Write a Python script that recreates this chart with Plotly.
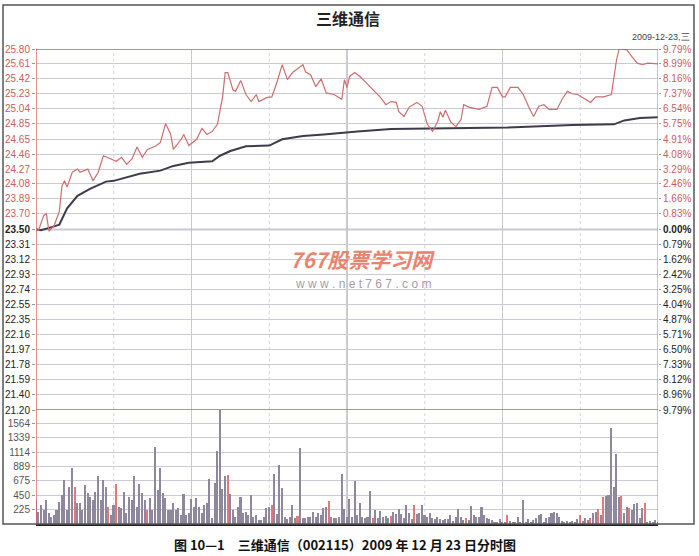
import plotly.graph_objects as go

# ---------------- data ----------------
price_minutes = [0, 1, 3, 4, 5, 7, 9, 10, 11, 12, 14, 16, 17, 20, 22, 24, 26, 28, 31, 33, 35, 37, 39, 41, 43,
                 46, 48, 50, 52, 53, 56, 57, 59, 62, 64, 66, 68, 70, 72, 73, 74, 76, 77, 79, 81, 83, 85, 86, 89,
                 91, 93, 95, 97, 99, 103, 104, 106, 108, 110, 112, 115, 118, 119, 120,
                 121, 123, 125, 128, 130, 133, 135, 137, 139, 140, 142, 144, 147, 149, 151, 153, 155, 156, 157,
                 158, 160, 162, 164, 165, 167, 169, 171, 174, 176, 178, 180, 181, 183, 186, 188, 190, 192, 194,
                 196, 198, 201, 203, 205, 207, 209, 212, 214, 216, 219, 222, 224, 225, 228, 230, 232, 234, 236, 240]
price_values = [23.50, 23.49, 23.68, 23.70, 23.48, 23.55, 23.73, 24.05, 24.12, 24.04, 24.23, 24.27, 24.23, 24.27,
                24.12, 24.23, 24.44, 24.41, 24.37, 24.42, 24.33, 24.40, 24.55, 24.42, 24.52,
                24.56, 24.61, 24.85, 24.71, 24.52, 24.65, 24.71, 24.57, 24.65, 24.79, 24.71, 24.75, 24.84, 25.19,
                25.50, 25.50, 25.28, 25.26, 25.40, 25.22, 25.13, 25.22, 25.13, 25.18,
                25.19, 25.38, 25.60, 25.41, 25.50, 25.60, 25.51, 25.47, 25.32, 25.42, 25.24, 25.22, 25.16, 25.41, 25.31,
                25.45, 25.50, 25.45, 25.35, 25.28, 25.18, 25.09, 25.13, 25.12, 25.00, 24.94, 25.06, 25.12, 25.07,
                24.84, 24.75, 24.88, 25.00, 24.93,
                25.02, 24.87, 24.81, 24.90, 25.09, 25.06, 25.04, 25.03, 25.07, 25.31, 25.31, 25.19, 25.19, 25.31,
                25.31, 25.22, 25.07, 24.94, 25.07,
                25.09, 25.03, 25.03, 25.16, 25.26, 25.23, 25.22, 25.16, 25.12, 25.19, 25.19, 25.22, 25.66, 25.80,
                25.79, 25.70, 25.62, 25.60, 25.62, 25.61]

avg_minutes = [0, 2, 7, 9, 12, 16, 21, 27, 30, 35, 40, 48, 53, 59, 68, 71, 75, 81, 90, 95, 103, 111, 120,
               124, 137, 156, 182, 207, 223, 227, 233, 240]
avg_values = [23.50, 23.49, 23.54, 23.56, 23.77, 23.93, 24.02, 24.11, 24.12, 24.17, 24.21, 24.25, 24.31, 24.35,
              24.37, 24.44, 24.50, 24.56, 24.57, 24.65, 24.69, 24.71, 24.74,
              24.75, 24.78, 24.79, 24.80, 24.83, 24.84, 24.89, 24.92, 24.93]

vol_morning = [372, 186, 295, 217, 372, 165, 114, 140, 217, 346, 450, 682, 217, 579, 863, 579, 320, 331, 217,
               605, 486, 424, 372, 501, 744, 372, 682, 579, 269, 140, 295, 620, 269, 243, 491, 165, 424, 372,
               744, 269, 620, 486, 372, 217, 398, 217, 1199, 527, 873, 476, 398, 217, 217, 331, 217, 243, 140,
               465, 140, 165, 388, 269, 408, 269, 176, 295, 320, 698, 88, 631, 1137, 1778, 543, 744, 760, 465,
               217, 114, 269, 424, 165, 191, 140, 450, 114, 140, 62, 62, 114, 243, 259, 295, 775, 155, 910,
               563, 114, 78, 114, 290, 88, 129, 1184, 88, 88, 103, 103, 191, 114, 165, 140, 243, 259, 362,
               103, 88, 88, 114, 775, 227, 114]
vol_afternoon = [382, 114, 672, 140, 320, 114, 88, 103, 517, 88, 217, 88, 202, 103, 124, 98, 124, 191, 155,
                 238, 155, 88, 290, 176, 78, 290, 155, 165, 290, 140, 103, 165, 88, 72, 103, 78, 62, 78, 78,
                 140, 52, 114, 233, 103, 62, 88, 62, 284, 140, 114, 114, 259, 140, 88, 78, 62, 36, 36, 78, 36,
                 36, 140, 52, 36, 26, 103, 36, 372, 36, 78, 26, 62, 88, 140, 150, 36, 88, 114, 165, 191, 165,
                 114, 52, 36, 52, 36, 52, 36, 72, 140, 52, 88, 62, 88, 165, 191, 227, 140, 424, 439, 450, 1484,
                 569, 1086, 424, 434, 165, 269, 243, 217, 305, 331, 88, 253, 331, 36, 52, 36, 62, 36]
red_bar_minutes = [15, 28, 31, 43, 74, 91, 101, 113, 130, 137, 146, 166, 182, 210, 214, 217, 219, 226, 229, 235]

price_labels_upper = ["25.80", "25.61", "25.42", "25.23", "25.04", "24.85", "24.65", "24.46", "24.27",
                      "24.08", "23.89", "23.70"]
price_label_mid = "23.50"
price_labels_lower = ["23.31", "23.12", "22.93", "22.74", "22.55", "22.35", "22.16", "21.97", "21.78",
                      "21.59", "21.40", "21.20"]
pct_labels_upper = ["9.79%", "8.99%", "8.16%", "7.37%", "6.54%", "5.75%", "4.91%", "4.08%", "3.29%",
                    "2.46%", "1.66%", "0.83%"]
pct_label_mid = "0.00%"
pct_labels_lower = ["0.79%", "1.62%", "2.42%", "3.25%", "4.04%", "4.87%", "5.71%", "6.50%", "7.33%",
                    "8.12%", "8.96%", "9.79%"]
vol_ticks = [225, 450, 675, 889, 1114, 1339, 1564]

title_text = "三维通信"
date_text = "2009-12-23,三"
caption_text = "图 10—1　三维通信（002115）2009 年 12 月 23 日分时图"
wm_main = "767股票学习网"
wm_url = "w w w . n e t 7 6 7 . c o m"

# ---------------- styles ----------------
RED = "#cc5c5c"
LINE_RED = "#cc6e6e"
GRID = "#cdc9d8"
BAR_GRAY = "#8f879c"
BAR_RED = "#e07a7a"
NUM_FONT = "Liberation Sans"
CJK_FONT = "Noto Sans CJK SC"

vol_all = vol_morning + vol_afternoon
vol_minutes = list(range(len(vol_all)))
bar_colors = [BAR_RED if m in red_bar_minutes else BAR_GRAY for m in vol_minutes]

p_vals = [float(s) for s in price_labels_upper + [price_label_mid] + price_labels_lower]
p_text = ([f'<span style="color:{RED}">{s}</span>' for s in price_labels_upper]
          + [f"<b>{price_label_mid}</b>"]
          + [f'<span style="color:#222">{s}</span>' for s in price_labels_lower])
r_text = ([f'<span style="color:{RED}">{s}</span>' for s in pct_labels_upper]
          + [f"<b>{pct_label_mid}</b>"]
          + [f'<span style="color:#222">{s}</span>' for s in pct_labels_lower])
p_min, p_max = min(p_vals), max(p_vals)
t0, t1 = price_minutes[0], price_minutes[-1]

fig = go.Figure()
fig.add_trace(go.Bar(x=vol_minutes, y=vol_all, marker_color=bar_colors, marker_line_width=0,
                     width=0.6, yaxis="y2", xaxis="x", hoverinfo="skip"))
fig.add_trace(go.Scatter(x=avg_minutes, y=avg_values, mode="lines",
                         line=dict(color="#3c3c4c", width=2), yaxis="y", hoverinfo="skip"))
fig.add_trace(go.Scatter(x=price_minutes, y=price_values, mode="lines",
                         line=dict(color=LINE_RED, width=1.2), yaxis="y", hoverinfo="skip"))
fig.add_trace(go.Scatter(x=[t0, t1], y=[p_min, p_max], mode="markers", marker=dict(opacity=0),
                         yaxis="y3", hoverinfo="skip"))

shapes = []
for m in [30, 90, 150, 210]:
    shapes.append(dict(type="line", xref="x", yref="paper", x0=m, x1=m, y0=0, y1=1,
                       line=dict(color="#d6d2de", width=1, dash="dot"), layer="below"))
for m in [60, 180]:
    shapes.append(dict(type="line", xref="x", yref="paper", x0=m, x1=m, y0=0, y1=1,
                       line=dict(color="#cbc7d6", width=1), layer="below"))
shapes.append(dict(type="line", xref="x", yref="paper", x0=120, x1=120, y0=0, y1=1,
                   line=dict(color="#9a96a4", width=1), layer="below"))
shapes.append(dict(type="line", xref="x", yref="y", x0=t0, x1=t1, y0=p_max, y1=p_max,
                   line=dict(color=RED, width=1.3)))
shapes.append(dict(type="line", xref="x", yref="y", x0=t0, x1=t1, y0=p_min, y1=p_min,
                   line=dict(color=RED, width=1.3)))
shapes.append(dict(type="line", xref="x", yref="y", x0=t0, x1=t1, y0=float(price_label_mid),
                   y1=float(price_label_mid), line=dict(color="#8e8a9a", width=1.5), layer="below"))
shapes.append(dict(type="line", xref="x", yref="paper", x0=t0, x1=t0, y0=0, y1=1,
                   line=dict(color=RED, width=1.3)))
shapes.append(dict(type="line", xref="x", yref="paper", x0=t1, x1=t1, y0=0, y1=1,
                   line=dict(color="#8a8a8a", width=1)))
shapes.append(dict(type="rect", xref="paper", yref="paper",
                   x0=(3 - 36) / 622, x1=(694 - 36) / 622, y0=0, y1=(524 - 5) / 475,
                   line=dict(color="#555555", width=1.5), fillcolor="rgba(0,0,0,0)"))

annotations = [
    dict(text=f"<b>{title_text}</b>", xref="paper", yref="paper", x=(348 - 36) / 622, y=(524 - 18) / 475,
         showarrow=False, font=dict(family=CJK_FONT, size=16, color="#222"), xanchor="center",
         yanchor="middle"),
    dict(text=date_text, xref="paper", yref="paper", x=(692 - 36) / 622, y=(524 - 37) / 475,
         showarrow=False, font=dict(family=NUM_FONT, size=9, color="#444"), xanchor="right",
         yanchor="middle"),
    dict(text=f"<b>{caption_text}</b>", xref="paper", yref="paper", x=(345 - 36) / 622, y=(524 - 544) / 475,
         showarrow=False, font=dict(family=CJK_FONT, size=13, color="#111"), xanchor="center",
         yanchor="middle"),
    dict(text=f"<b><i>{wm_main}</i></b>", xref="paper", yref="paper", x=(362 - 36) / 622,
         y=(524 - 259) / 475, showarrow=False, font=dict(family=CJK_FONT, size=21, color="#e8846e"),
         xanchor="center", yanchor="middle"),
    dict(text=wm_url, xref="paper", yref="paper", x=(363 - 36) / 622, y=(524 - 284) / 475,
         showarrow=False, font=dict(family=NUM_FONT, size=12, color="#a49cac"),
         xanchor="center", yanchor="middle"),
]

price_domain = [(524 - 410) / 475, 1]
vol_domain = [0, (524 - 410) / 475]

fig.update_layout(
    width=699, height=556,
    margin=dict(l=36, r=41, t=49, b=32, autoexpand=False),
    paper_bgcolor="white", plot_bgcolor="white",
    showlegend=False, hovermode=False, bargap=0,
    xaxis=dict(range=[t0, t1], anchor="y2", showgrid=False, zeroline=False, showticklabels=False,
               showline=True, linecolor="#222", linewidth=1.5, ticks="", automargin=False),
    yaxis=dict(domain=price_domain, range=[p_min, p_max], tickvals=p_vals, ticktext=p_text,
               showgrid=True, gridcolor=GRID, gridwidth=1, zeroline=False, ticks="outside",
               ticklen=3, tickcolor="#999", tickfont=dict(family=NUM_FONT, size=10, color="#222"),
               showline=False, automargin=False),
    yaxis2=dict(domain=vol_domain, range=[0, 1770], tickvals=vol_ticks,
                ticktext=[str(v) for v in vol_ticks], showgrid=True, gridcolor=GRID, zeroline=False,
                ticks="outside", ticklen=3, tickcolor="#999", automargin=False,
                tickfont=dict(family=NUM_FONT, size=10, color="#555")),
    yaxis3=dict(overlaying="y", side="right", anchor="x", range=[p_min, p_max], tickvals=p_vals,
                ticktext=r_text, showgrid=False, zeroline=False, ticks="outside", ticklen=2,
                tickcolor="#999", automargin=False,
                tickfont=dict(family=NUM_FONT, size=10, color="#222")),
    shapes=shapes,
    annotations=annotations,
)

fig.write_html("out.html", config={"displayModeBar": False},
               post_script="document.body.style.margin='0';document.body.style.padding='0';")
